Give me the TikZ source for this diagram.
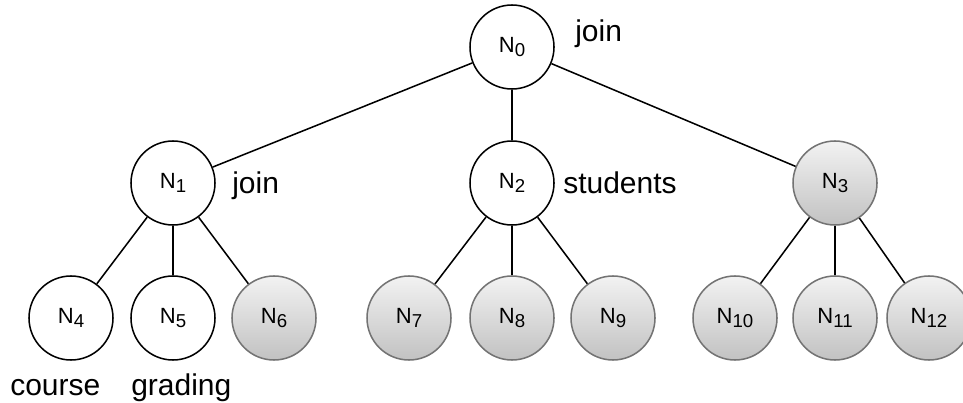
\documentclass[tikz,border=0pt]{standalone}
\usepackage{fontspec}
\setmainfont{Liberation Sans}
\newcommand{\nlab}[1]{N\raisebox{-0.3ex}{\fontsize{14pt}{16pt}\selectfont #1}}
\begin{document}
\begin{tikzpicture}[x=0.75pt,y=-0.75pt,
  treenode/.style={circle,draw=black,line width=1.15pt,minimum size=63pt,inner sep=0pt,
    font=\fontsize{16.5pt}{19pt}\selectfont},
  graynode/.style={treenode,draw=black!55,top color=black!5,bottom color=black!24},
  edge/.style={line width=1.15pt},
  tag/.style={font=\fontsize{22.5pt}{27pt}\selectfont,inner sep=0pt}]
\useasboundingbox (0,0) rectangle (963,403);
% inner nodes
\node[treenode] (n0) at (512,47) {\nlab{0}};
\node[treenode] (n1) at (173,183) {\nlab{1}};
\node[treenode] (n2) at (512,183) {\nlab{2}};
\node[graynode] (n3) at (835,183) {\nlab{3}};
% leaves
\node[treenode] (n4) at (71,318) {\nlab{4}};
\node[treenode] (n5) at (173,318) {\nlab{5}};
\node[graynode] (n6) at (274,318) {\nlab{6}};
\node[graynode] (n7) at (409,318) {\nlab{7}};
\node[graynode] (n8) at (512,318) {\nlab{8}};
\node[graynode] (n9) at (613,318) {\nlab{9}};
\node[graynode] (n10) at (735,318) {\nlab{10}};
\node[graynode] (n11) at (835,318) {\nlab{11}};
\node[graynode] (n12) at (929,318) {\nlab{12}};
% edges
\foreach \a/\b in {n0/n1,n0/n2,n0/n3,n1/n4,n1/n5,n1/n6,n2/n7,n2/n8,n2/n9,n3/n10,n3/n11,n3/n12}
  \draw[edge] (\a) -- (\b);
% labels
\node[tag,anchor=base west] (l0) at (575,42) {join};
\node[tag,anchor=base west] (l1) at (232,193) {join};
\node[tag,anchor=base west] (l2) at (563,193) {students};
\node[tag,anchor=base west] (l4) at (10,395) {course};
\node[tag,anchor=base west] (l5) at (131,395) {grading};
\end{tikzpicture}
\end{document}
